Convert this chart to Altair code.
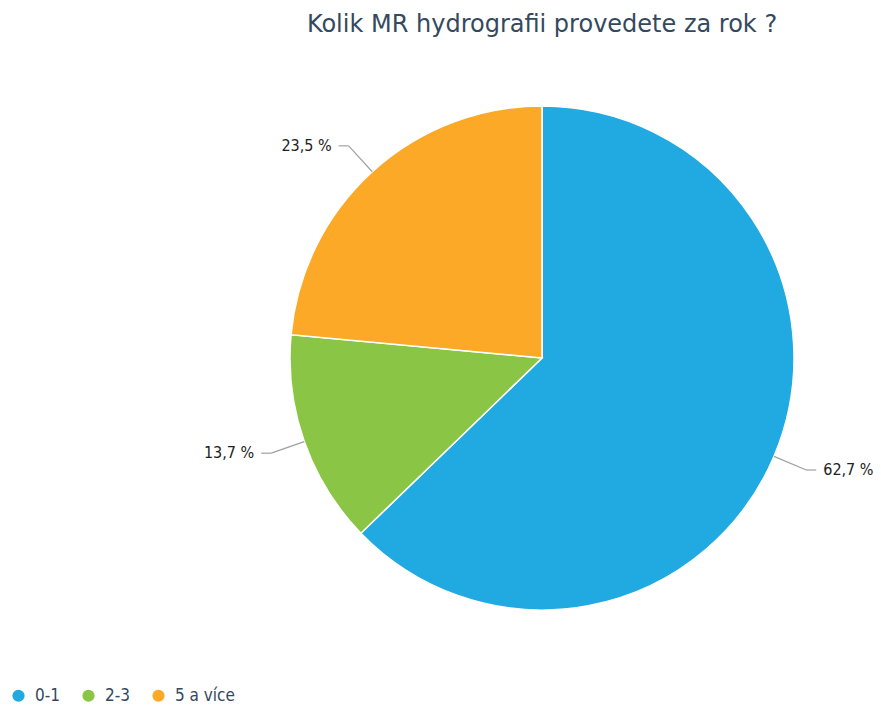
import altair as alt
import pandas as pd

categories = ["0-1", "2-3", "5 a více"]
values = [62.7, 13.7, 23.5]
labels = ["62,7 %", "13,7 %", "23,5 %"]
colors = ["#21a9e1", "#8bc546", "#fba926"]
title_text = "Kolik MR hydrografii provedete za rok ?"

df = pd.DataFrame({"cat": categories, "val": values, "label": labels, "ord": [0, 1, 2]})

CX, CY, R = 534, 350, 252
R2 = 287
HOOK = 10
GAP = 7

base = alt.Chart(df)

pie = base.mark_arc(outerRadius=R, stroke="white", strokeWidth=1.5).encode(
    theta=alt.Theta("val:Q", stack=True),
    color=alt.Color(
        "cat:N",
        scale=alt.Scale(domain=categories, range=colors),
        legend=alt.Legend(
            title=None, orient="none", legendX=2, legendY=679, direction="horizontal",
            symbolType="circle", symbolSize=150, symbolStrokeWidth=0,
            labelFontSize=17, labelColor="#34495e", labelFont="DejaVu Sans Condensed",
            columnPadding=20, labelOffset=8,
        ),
    ),
    order=alt.Order("ord:Q"),
    x=alt.value(CX),
    y=alt.value(CY),
)

geo = base.transform_joinaggregate(total="sum(val)").transform_window(
    cum="sum(val)", sort=[alt.SortField("ord")], frame=[None, 0]
).transform_calculate(
    mid="(datum.cum - datum.val/2)/datum.total*2*PI"
).transform_calculate(
    sx=f"{CX} + {R}*sin(datum.mid)",
    sy=f"{CY} - {R}*cos(datum.mid)",
    ex=f"{CX} + {R2}*sin(datum.mid)",
    ey=f"{CY} - {R2}*cos(datum.mid)",
    side="sin(datum.mid) >= 0 ? 1 : -1",
).transform_calculate(
    hx=f"datum.ex + datum.side*{HOOK}",
).transform_calculate(
    tx=f"datum.hx + datum.side*{GAP}",
)

seg1 = geo.mark_rule(color="#a0a0a0", strokeWidth=1.2).encode(
    x=alt.X("sx:Q", scale=None, axis=None),
    y=alt.Y("sy:Q", scale=None, axis=None),
    x2="ex:Q",
    y2="ey:Q",
)
seg2 = geo.mark_rule(color="#a0a0a0", strokeWidth=1.2).encode(
    x=alt.X("ex:Q", scale=None, axis=None),
    y=alt.Y("ey:Q", scale=None, axis=None),
    x2="hx:Q",
    y2="ey:Q",
)

txt_right = geo.transform_filter("datum.side > 0").mark_text(
    align="left", baseline="middle", fontSize=16, font="DejaVu Sans Condensed", color="#222222"
).encode(
    x=alt.X("tx:Q", scale=None, axis=None),
    y=alt.Y("ey:Q", scale=None, axis=None),
    text="label:N",
)
txt_left = geo.transform_filter("datum.side < 0").mark_text(
    align="right", baseline="middle", fontSize=16, font="DejaVu Sans Condensed", color="#222222"
).encode(
    x=alt.X("tx:Q", scale=None, axis=None),
    y=alt.Y("ey:Q", scale=None, axis=None),
    text="label:N",
)

title = alt.Chart(pd.DataFrame({"t": [title_text]})).mark_text(
    fontSize=24, font="DejaVu Sans", color="#34495e", baseline="middle", align="center"
).encode(x=alt.value(CX), y=alt.value(17), text="t:N")

chart = alt.layer(pie, seg1, seg2, txt_right, txt_left, title).properties(
    width=865, height=697, autosize=alt.AutoSizeParams(type="none"), padding=0,
    background="white",
).configure_view(stroke=None)

chart.save("out.html", embed_options={"renderer": "svg", "actions": False})
